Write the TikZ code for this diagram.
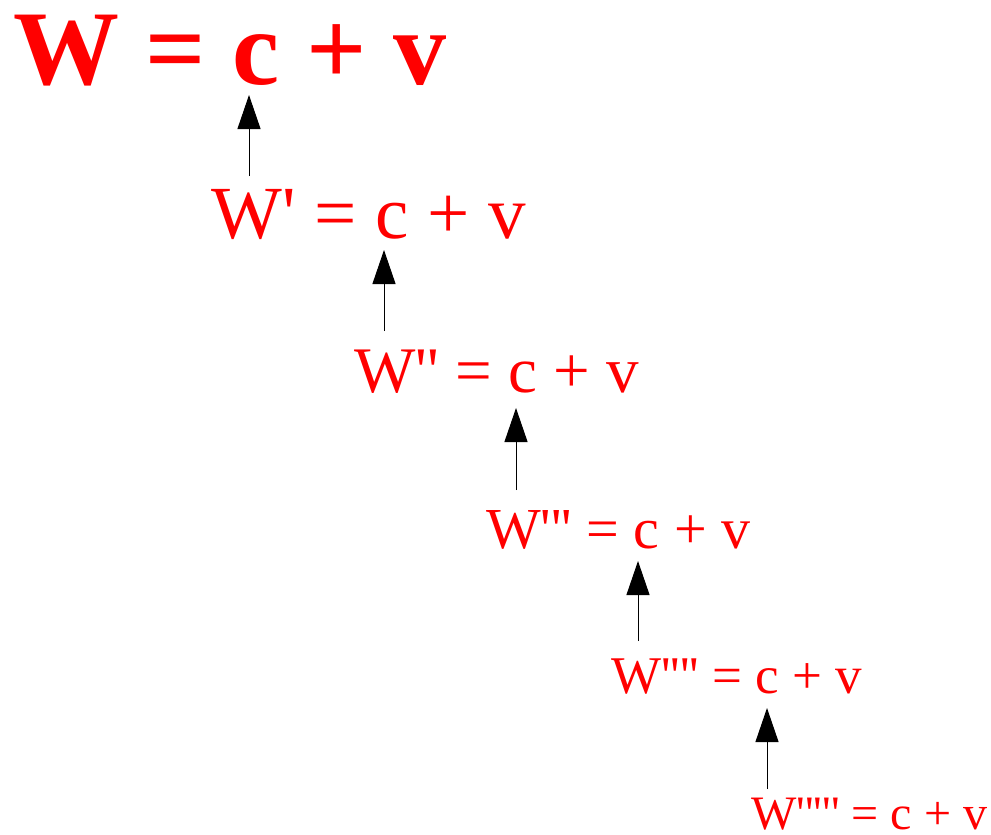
\documentclass[tikz,border=0pt]{standalone}
\usepackage{fontspec}
\usetikzlibrary{arrows.meta}
\newfontfamily\EqFont[Ligatures=TeXOff]{Liberation Serif}
\newcommand{\EqRest}{ = c + v}
\tikzset{
  eqn/.style={
    text=red,
    anchor=base west,
    inner sep=0pt,
    font=\EqFont\fontsize{#1}{#1}\selectfont
  },
  lift/.style={-{Triangle[length=34pt,width=23pt]},line width=1pt,draw=black}
}

\begin{document}
\begin{tikzpicture}[x=1pt,y=-1pt]
  \useasboundingbox (0,0) rectangle (991,835);

  % the chain of value equations, each one a step lower
  \node[eqn=106pt] (w0) at (13,84) {\bfseries W\EqRest};
  \node[eqn=75pt] (w1) at (211,238) {W'\EqRest};
  \node[eqn=65pt] (w2) at (354,392) {W''\EqRest};
  \node[eqn=58pt] (w3) at (486,548) {W'''\EqRest};
  \node[eqn=53pt] (w4) at (611,693) {W''''\EqRest};
  \node[eqn=48pt] (w5) at (751,829) {W'''''\EqRest};

  \coordinate (tip1) at (249,95);  \coordinate (foot1) at (249,176);
  \coordinate (tip2) at (384,250); \coordinate (foot2) at (384,331);
  \coordinate (tip3) at (516,408); \coordinate (foot3) at (516,490);
  \coordinate (tip4) at (638,561); \coordinate (foot4) at (638,641);
  \coordinate (tip5) at (767,708); \coordinate (foot5) at (767,789);

  \draw[lift] (foot1) -- (tip1);
  \draw[lift] (foot2) -- (tip2);
  \draw[lift] (foot3) -- (tip3);
  \draw[lift] (foot4) -- (tip4);
  \draw[lift] (foot5) -- (tip5);
\end{tikzpicture}
\end{document}
